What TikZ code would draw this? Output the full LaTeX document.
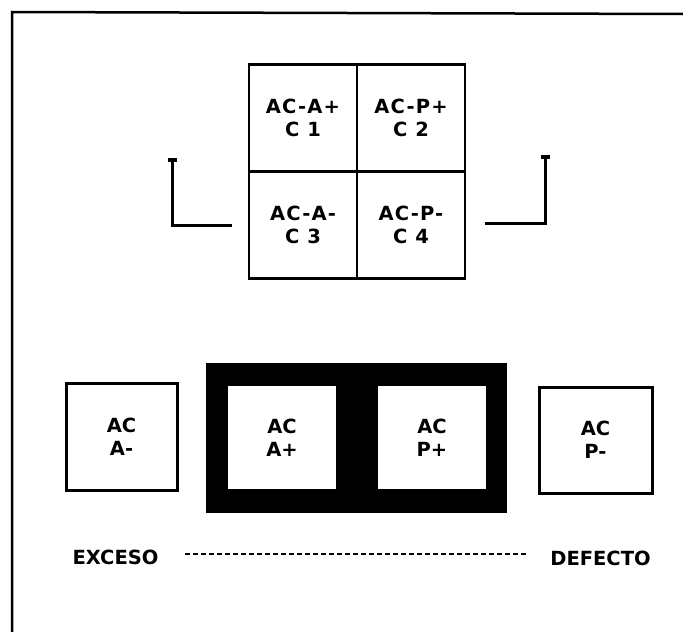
\documentclass[tikz,border=0pt]{standalone}
\usepackage{fontspec}
\setmainfont{DejaVu Sans}
\usepackage{tikz}
\usetikzlibrary{arrows.meta, positioning}

\begin{document}
\begin{tikzpicture}[
    x=1pt, y=-1pt,
    node distance=0pt,
    lbl/.style={font=\fontsize{19.5}{23}\selectfont\bfseries, align=center, inner sep=0pt, outer sep=0pt},
    cell/.style={lbl, font=\fontsize{19.5}{23}\selectfont\bfseries\addfontfeature{LetterSpace=6}, draw, line width=2.5pt, minimum width=108pt, minimum height=107pt},
    sidebox/.style={lbl, draw, line width=3pt, minimum width=111pt, minimum height=107pt},
    innerbox/.style={lbl, fill=white, minimum width=108pt, minimum height=103pt},
    bracket/.style={line width=3pt, -{Bar[width=9pt, line width=4pt]}}
]
    \useasboundingbox (0,0) rectangle (683,632);
    % marco
    \draw[line width=2.5pt] (12,632) -- (12,12) -- (683,14);

    % cuadro superior
    \node[cell] (c1) at (303,118) {AC-A+\\C 1};
    \node[cell, right=of c1] (c2) {AC-P+\\C 2};
    \node[cell, below=of c1] (c3) {AC-A-\\C 3};
    \node[cell, below=of c2] (c4) {AC-P-\\C 4};

    % corchetes
    \coordinate (lin) at (232,225);
    \coordinate (ltop) at (172,158);
    \coordinate (rin) at (485,223);
    \coordinate (rtop) at (545,155);
    \draw[bracket] (lin) -| (ltop);
    \draw[bracket] (rin) -| (rtop);

    % fila inferior
    \node[fill=black, minimum width=301pt, minimum height=150pt, inner sep=0pt] (pos) at (356.5,438) {};
    \node[innerbox] (aplus) at (282,437.5) {AC\\A+};
    \node[innerbox] (pplus) at (432,437.5) {AC\\P+};
    \node[sidebox] (aminus) at (121.5,436.5) {AC\\A-};
    \node[sidebox, minimum width=113pt, minimum height=106pt] (pminus) at (595.5,440) {AC\\P-};

    % escala
    \node[lbl] (exceso) at (115.5,557) {EXCESO};
    \node[lbl] (defecto) at (600.5,558) {DEFECTO};
    \draw[line width=2.5pt, dash pattern=on 5pt off 3pt] ([xshift=27pt, yshift=3pt]exceso.east) -- ([xshift=-24pt, yshift=4pt]defecto.west);
\end{tikzpicture}
\end{document}
